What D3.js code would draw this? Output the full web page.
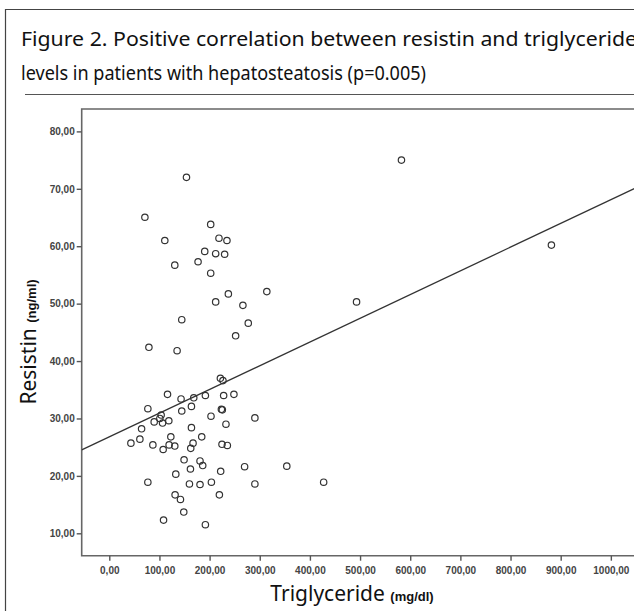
<!DOCTYPE html>
<html>
<head>
<meta charset="utf-8">
<script src="https://cdn.jsdelivr.net/npm/d3@7"></script>
<style>
  body { margin: 0; background: #fff; }
  svg { display: block; }
</style>
</head>
<body>
<div class="container"></div>
<script>
var w = 634;
var h = 611;

var titleLines = [
  "Figure 2. Positive correlation between resistin and triglyceride",
  "levels in patients with hepatosteatosis (p=0.005)"
];

// triglyceride (mg/dl) and resistin (ng/ml)
var triglyceride = [153.9, 71, 202.2, 110.7, 218.7, 234.6, 190.3, 212.1, 230, 130.6,
  177, 202.2, 237.4, 314.1, 212.1, 266.4, 144.5, 277.1, 251.9, 79,
  135.2, 221.5, 226.6, 116.1, 143.1, 168.4, 191.6, 228, 248.5, 76.9,
  144.5, 163.8, 223.5, 225.4, 103.4, 89.5, 106.2, 118.7, 100.8, 202.8,
  290.3, 64.4, 163.8, 232.6, 61, 43.1, 86.9, 122.7, 107.4, 119.3,
  130.6, 167, 162.4, 184.3, 224.7, 235.4, 149.1, 161.8, 180.9, 186.3,
  222.1, 269.8, 353.9, 132.6, 76.9, 159.8, 180.9, 203.6, 290.3, 427.4,
  131.2, 141.9, 219.5, 148.5, 108.2, 191.6, 582.5, 881.5, 493];
var resistin = [72.0, 65.05, 63.8, 61.0, 61.4, 61.0, 59.1, 58.7, 58.6, 56.7,
  57.3, 55.3, 51.7, 52.1, 50.3, 49.7, 47.2, 46.6, 44.4, 42.4,
  41.8, 37.0, 36.6, 34.2, 33.4, 33.6, 34.0, 34.0, 34.2, 31.7,
  31.3, 32.1, 31.6, 31.5, 30.6, 29.4, 29.2, 29.6, 30.0, 30.4,
  30.1, 28.2, 28.4, 29.0, 26.4, 25.7, 25.4, 26.8, 24.6, 25.4,
  25.2, 25.7, 24.8, 26.8, 25.5, 25.3, 22.8, 21.2, 22.6, 21.8,
  20.8, 21.6, 21.7, 20.3, 18.9, 18.6, 18.5, 18.9, 18.6, 18.9,
  16.7, 15.9, 16.7, 13.7, 12.3, 11.5, 75.0, 60.2, 50.3];

var xTicks = [0, 100, 200, 300, 400, 500, 600, 700, 800, 900, 1000];
var yTicks = [10, 20, 30, 40, 50, 60, 70, 80];

// linear fit line
var fitIntercept = 26.8;
var fitSlope = 0.0413;

var dataset = triglyceride.map(function(d, i){ return [d, resistin[i]]; });

var pl = 81.7, pt = 109, pb = 555.7, pr = 660;

var x = d3.scaleLinear().domain([-55, 1098]).range([pl, pr]);
var y = d3.scaleLinear().domain([6.1, 83.9]).range([pb, pt]);
var fmt = function(d){ return d3.format(".2f")(d).replace(".", ","); };

var svg = d3.select(".container").append("svg").attr("width", w).attr("height", h);

// outer frame and title rule
svg.append("path").attr("d", "M5.5," + (h + 5) + "V9.5H" + (w + 5))
  .attr("fill", "none").attr("stroke", "#444").attr("stroke-width", 1.2);
svg.append("line").attr("x1", 25).attr("x2", w + 5).attr("y1", 94.5).attr("y2", 94.5)
  .attr("stroke", "#555").attr("stroke-width", 1.2);

svg.selectAll("text.title").data(titleLines).enter().append("text")
  .attr("class", "title")
  .attr("x", 21)
  .attr("y", function(d, i){ return 46 + i * 34; })
  .attr("textLength", function(d, i){ return i == 0 ? 616 : 405; })
  .attr("lengthAdjust", "spacingAndGlyphs")
  .style("font-family", "'Noto Sans', sans-serif")
  .style("font-size", "19px")
  .attr("fill", "#111")
  .text(function(d){ return d; });

// plot box
svg.append("path").attr("d", "M" + (pr + 5) + "," + pt + "H" + pl + "V" + pb + "H" + (pr + 5))
  .attr("fill", "none").attr("stroke", "#666").attr("stroke-width", 1.6);

var xAxis = svg.append("g").attr("transform", "translate(0," + pb + ")")
  .call(d3.axisBottom(x).tickValues(xTicks).tickFormat(fmt).tickSize(5).tickPadding(6).tickSizeOuter(0));
var yAxis = svg.append("g").attr("transform", "translate(" + pl + ",0)")
  .call(d3.axisLeft(y).tickValues(yTicks).tickFormat(fmt).tickSize(5).tickPadding(2).tickSizeOuter(0));

[xAxis, yAxis].forEach(function(g){
  g.select(".domain").remove();
  g.selectAll(".tick line").attr("stroke", "#555").attr("stroke-width", 1.4);
  g.selectAll(".tick text")
    .attr("fill", "#444")
    .style("font-family", "'Liberation Sans', Arial, sans-serif")
    .style("font-size", "10px")
    .style("font-weight", "bold");
});

svg.append("clipPath").attr("id", "plotclip").append("rect")
  .attr("x", pl).attr("y", pt).attr("width", pr - pl).attr("height", pb - pt);

var plot = svg.append("g").attr("clip-path", "url(#plotclip)");

plot.append("line")
  .attr("x1", x(-55)).attr("y1", y(fitIntercept + fitSlope * -55))
  .attr("x2", x(1098)).attr("y2", y(fitIntercept + fitSlope * 1098))
  .attr("stroke", "#333").attr("stroke-width", 1.3);

plot.selectAll("circle").data(dataset).enter().append("circle")
  .attr("cx", function(d){ return x(d[0]); })
  .attr("cy", function(d){ return y(d[1]); })
  .attr("r", 3.2)
  .attr("fill", "none")
  .attr("stroke", "#333")
  .attr("stroke-width", 1.2);

// axis titles
var xt = svg.append("text").attr("x", 352).attr("y", 601)
  .attr("text-anchor", "middle").attr("fill", "#111")
  .style("font-family", "'Noto Sans', sans-serif");
xt.append("tspan").style("font-size", "21px").text("Triglyceride ");
xt.append("tspan").style("font-size", "13px").style("font-weight", "bold")
  .style("font-family", "'Liberation Sans', Arial, sans-serif").text("(mg/dl)");

var yt = svg.append("text").attr("transform", "translate(36,342) rotate(-90)")
  .attr("text-anchor", "middle").attr("fill", "#111")
  .style("font-family", "'Noto Sans', sans-serif");
yt.append("tspan").style("font-size", "21px").text("Resistin ");
yt.append("tspan").style("font-size", "13px").style("font-weight", "bold")
  .style("font-family", "'Liberation Sans', Arial, sans-serif").text("(ng/ml)");
</script>
</body>
</html>
